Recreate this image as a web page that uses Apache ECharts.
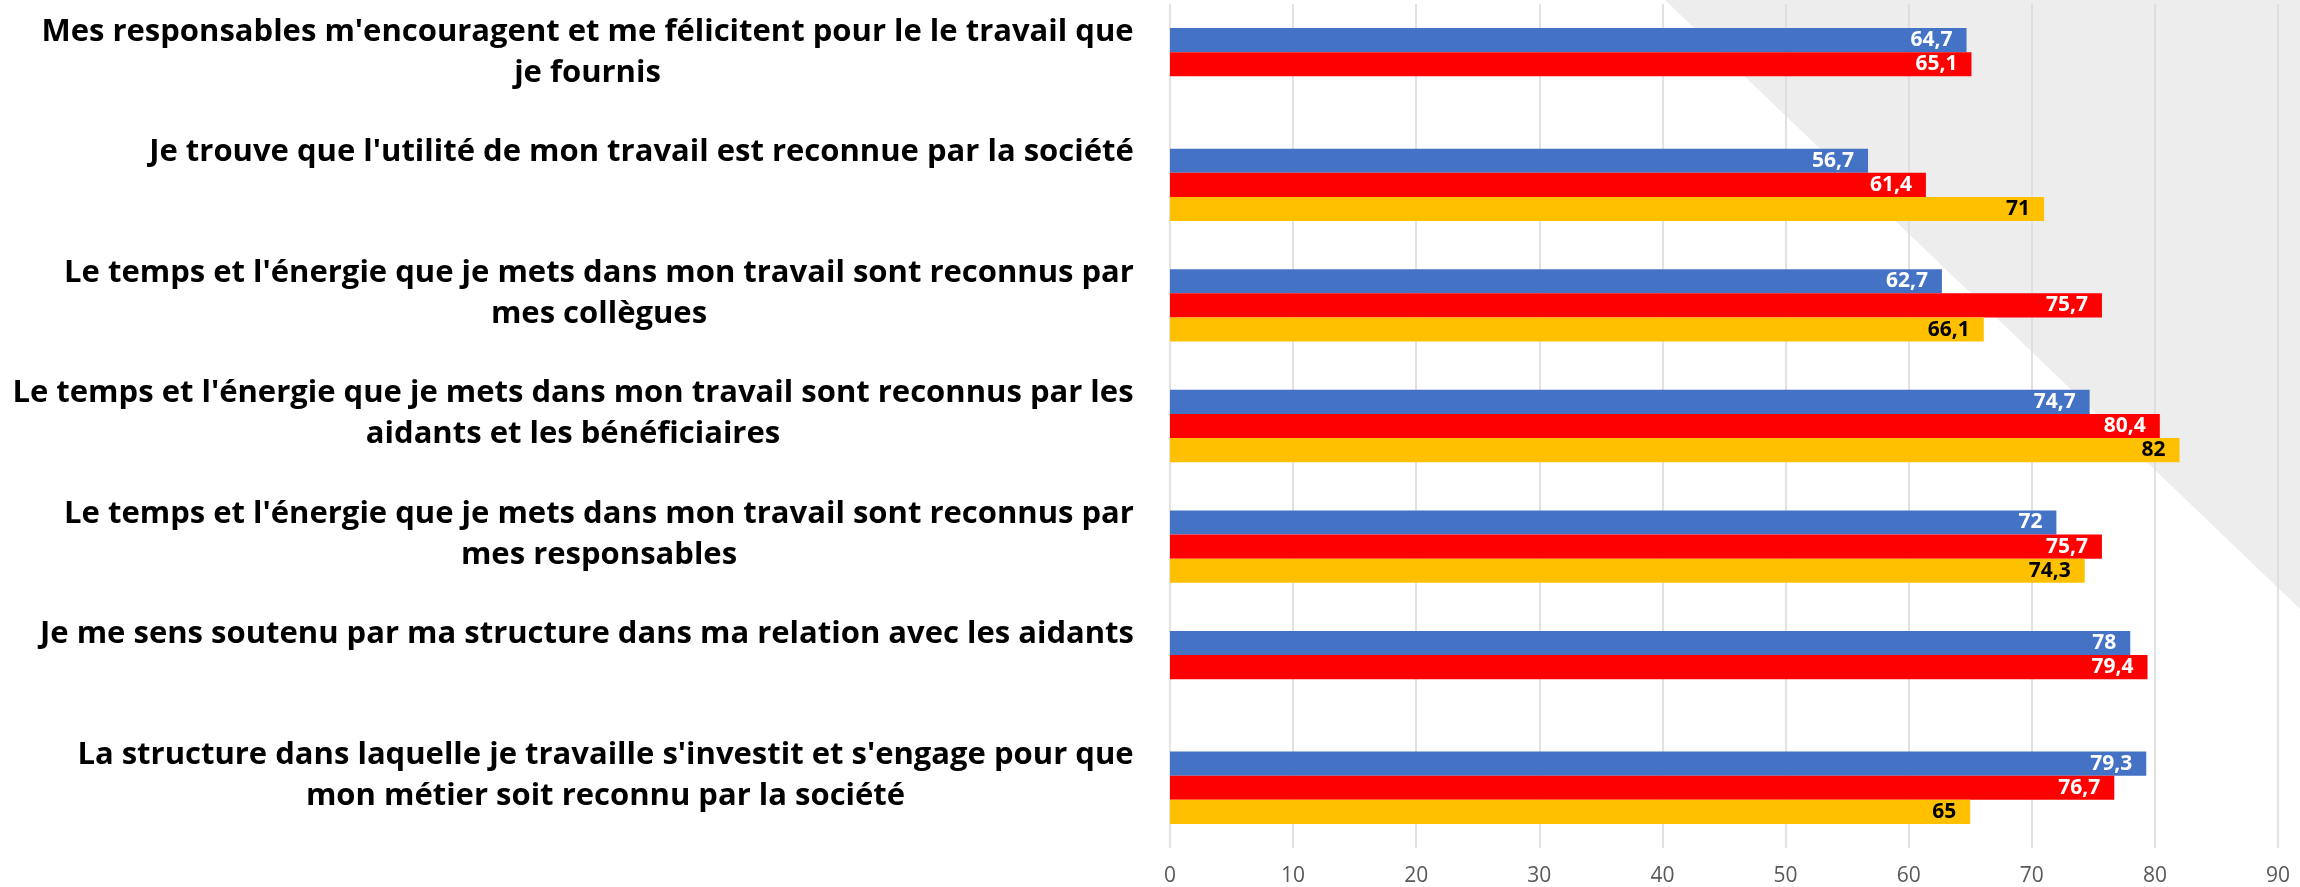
<!DOCTYPE html>
<html><head><meta charset="utf-8">
<script src="https://cdn.jsdelivr.net/npm/echarts@6/dist/echarts.min.js"></script>
<style>html,body{margin:0;padding:0;background:#fff}#c{width:2300px;height:887px}</style>
</head><body><div id="c"></div>
<script>
const categories = [
  "Mes responsables m'encouragent et me félicitent pour le le travail que\nje fournis",
  "Je trouve que l'utilité de mon travail est reconnue par la société",
  "Le temps et l'énergie que je mets dans mon travail sont reconnus par\nmes collègues",
  "Le temps et l'énergie que je mets dans mon travail sont reconnus par les\naidants et les bénéficiaires",
  "Le temps et l'énergie que je mets dans mon travail sont reconnus par\nmes responsables",
  "Je me sens soutenu par ma structure dans ma relation avec les aidants",
  "La structure dans laquelle je travaille s'investit et s'engage pour que\nmon métier soit reconnu par la société"
];
const seriesNames = ['Série 1', 'Série 2', 'Série 3'];
const blueValues = [64.7, 56.7, 62.7, 74.7, 72, 78, 79.3];
const redValues = [65.1, 61.4, 75.7, 80.4, 75.7, 79.4, 76.7];
const yellowValues = [null, 71, 66.1, 82, 74.3, null, 65];
const xMin = 0, xMax = 90, xInterval = 10;

const LBL_FAMILY = 'Open Sans';
const LBL_SIZE = 31;
const ctx = document.createElement('canvas').getContext('2d');
ctx.font = 'bold ' + LBL_SIZE + 'px "' + LBL_FAMILY + '"';
const rich = { sp: { lineHeight: 24, height: 24, fontSize: 2 } };
categories.forEach((c, i) => {
  const lines = c.split('\n');
  const w = Math.ceil(Math.max(...lines.map(l => ctx.measureText(l).width)));
  rich['l' + i] = { width: w, align: 'center', lineHeight: 41, fontFamily: LBL_FAMILY,
    fontWeight: 'bold', fontSize: LBL_SIZE, color: '#000' };
});
function catFormatter(value, index) {
  const lines = value.split('\n');
  if (lines.length < 2) lines.push(' ');
  return lines.map(l => '{l' + index + '|' + l + '}').join('\n') + '\n{sp| }';
}
const fmtVal = p => String(p.value).replace('.', ',');
function mkSeries(name, data, color, labelColor) {
  return {
    name: name, type: 'bar', data: data,
    barCategoryGap: '40%', barGap: '0%',
    itemStyle: { color: color },
    label: { show: true, position: 'insideRight', distance: 14, color: labelColor,
      fontFamily: LBL_FAMILY, fontWeight: 'bold', fontSize: 21, formatter: fmtVal }
  };
}
const chart = echarts.init(document.getElementById('c'));
chart.setOption({
  animation: false,
  backgroundColor: '#fff',
  graphic: [{ type: 'polygon', z: -1, silent: true,
    shape: { points: [[1665, 0], [2300, 0], [2300, 609]] }, style: { fill: '#EDEDED' } }],
  grid: { left: 1170, right: 22, top: 4, bottom: 39, containLabel: false, outerBoundsMode: 'none' },
  xAxis: { type: 'value', min: xMin, max: xMax, interval: xInterval,
    axisLine: { show: false }, axisTick: { show: false },
    splitLine: { lineStyle: { color: '#D9D9D9', width: 1.5 } },
    axisLabel: { color: '#595959', fontFamily: LBL_FAMILY, fontSize: 21, margin: 18 } },
  yAxis: { type: 'category', inverse: true, data: categories,
    axisLine: { show: false }, axisTick: { show: false },
    axisLabel: { margin: 36, formatter: catFormatter, rich: rich, interval: 0 } },
  series: [
    mkSeries(seriesNames[0], blueValues, '#4472C4', '#fff'),
    mkSeries(seriesNames[1], redValues, '#FF0000', '#fff'),
    mkSeries(seriesNames[2], yellowValues, '#FFC000', '#000')
  ]
});
</script></body></html>
